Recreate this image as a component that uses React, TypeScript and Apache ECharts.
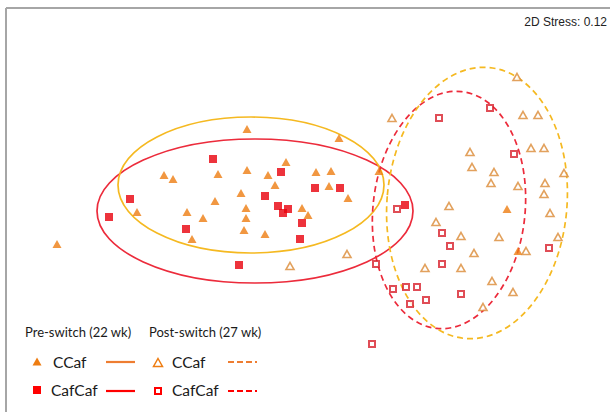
import React, { useEffect, useRef } from "react";
import * as echarts from "echarts";

// NMDS ordination coordinates (screen-like units)
const preCCaf: [number, number][] = [
  [57, 244], [247, 129], [339, 138], [164, 175], [173, 179], [218, 174], [247, 170],
  [268, 175], [286, 162], [275, 185], [241, 193], [316, 172], [331, 171], [329, 186],
  [348, 198], [379, 171], [215, 201], [137, 212], [187, 212], [203, 218], [246, 208],
  [246, 218], [302, 208], [308, 215], [244, 230], [192, 239], [265, 234], [507, 209],
  [518, 251],
];
const preCafCaf: [number, number][] = [
  [213, 159], [130, 199], [109, 217], [186, 229], [239, 265], [281, 172], [315, 188],
  [340, 188], [265, 196], [278, 206], [288, 209], [283, 213], [302, 223], [300, 239],
  [405, 205],
];
const postCCaf: [number, number][] = [
  [392, 118], [517, 77], [523, 115], [538, 115], [531, 148], [544, 148], [470, 152],
  [472, 167], [494, 172], [491, 183], [518, 186], [545, 183], [544, 194], [564, 173],
  [449, 206], [550, 213], [436, 222], [461, 236], [499, 237], [558, 237], [474, 253],
  [526, 251], [347, 254], [290, 266], [425, 268], [461, 268], [492, 281], [513, 292],
  [483, 307],
];
const postCafCaf: [number, number][] = [
  [439, 118], [490, 108], [514, 154], [397, 209], [442, 233], [450, 246], [442, 264],
  [376, 264], [393, 289], [406, 287], [417, 287], [410, 304], [426, 300], [461, 294],
  [549, 248], [372, 344],
];
// confidence ellipses: [cx, cy, rx, ry, tilt (deg, clockwise)]
const ellPreCCaf = [251, 185, 133, 68, 0];
const ellPreCafCaf = [255, 211, 158, 72, 0];
const ellPostCCaf = [477, 203, 90, 136, 5];
const ellPostCafCaf = [449, 210, 76, 119, 6];

const stressLabel = "2D Stress: 0.12";
const headerPre = "Pre-switch (22 wk)";
const headerPost = "Post-switch (27 wk)";
const groupNames = ["CCaf", "CafCaf"];

const C_ORANGE = "#EE7D12";
const C_RED = "#E8000B";
const C_TAN = "#DB8A35";
const C_HRED = "#D8202C";
const C_YEL = "#F5B921";
const C_ERED = "#EC2B3B";

function ellipseSeries(name: string, e: number[], stroke: string, dashed: boolean) {
  return {
    type: "custom",
    name,
    z: 1,
    silent: true,
    data: [e],
    renderItem: (_p: any, api: any) => {
      const c = api.coord([api.value(0), api.value(1)]);
      const s = api.size([api.value(2), api.value(3)]);
      return {
        type: "ellipse",
        x: c[0],
        y: c[1],
        rotation: (-api.value(4) * Math.PI) / 180,
        shape: { cx: 0, cy: 0, rx: Math.abs(s[0]), ry: Math.abs(s[1]) },
        style: {
          fill: "none",
          stroke,
          lineWidth: 1.7,
          lineDash: dashed ? [6, 4] : null,
        },
      };
    },
  };
}

export default function App() {
  const ref = useRef<HTMLDivElement>(null);
  useEffect(() => {
    if (!ref.current) return;
    const chart = echarts.init(ref.current, null, { renderer: "svg" });
    const font = "Lato, 'Open Sans', sans-serif";
    const tri = (cx: number, cy: number, fill: string, stroke?: string) => ({
      type: "polygon",
      shape: { points: [[cx, cy - 4.5], [cx + 4.5, cy + 3.5], [cx - 4.5, cy + 3.5]] },
      style: stroke ? { fill: "#fff", stroke, lineWidth: 1.5 } : { fill },
    });
    const sq = (cx: number, cy: number, fill: string, stroke?: string) => ({
      type: "rect",
      shape: stroke ? { x: cx - 3, y: cy - 3, width: 6, height: 6 } : { x: cx - 4, y: cy - 4, width: 8, height: 8 },
      style: stroke ? { fill: "#fff", stroke, lineWidth: 2 } : { fill },
    });
    const ln = (x1: number, x2: number, y: number, stroke: string, dashed: boolean) => ({
      type: "line",
      shape: { x1, y1: y, x2, y2: y },
      style: { stroke, lineWidth: 2.2, lineDash: dashed ? [6, 3] : null },
    });
    const txt = (x: number, y: number, text: string, size: number) => ({
      type: "text",
      x,
      y,
      style: { text, fontFamily: font, fontSize: size, fill: "#1a1a1a", textVerticalAlign: "middle" },
    });
    chart.setOption({
      animation: false,
      backgroundColor: "#fff",
      grid: { left: 0, right: 0, top: 0, bottom: 0 },
      xAxis: { type: "value", min: 0, max: 610, show: false },
      yAxis: { type: "value", min: 0, max: 412, inverse: true, show: false },
      series: [
        ellipseSeries("ePreCafCaf", ellPreCafCaf, C_ERED, false),
        ellipseSeries("ePreCCaf", ellPreCCaf, C_YEL, false),
        ellipseSeries("ePostCafCaf", ellPostCafCaf, C_ERED, true),
        ellipseSeries("ePostCCaf", ellPostCCaf, C_YEL, true),
        {
          type: "scatter", name: "Pre CCaf", z: 3, data: preCCaf, symbol: "triangle",
          symbolSize: [9, 8], itemStyle: { color: C_ORANGE },
        },
        {
          type: "scatter", name: "Pre CafCaf", z: 3, data: preCafCaf, symbol: "rect",
          symbolSize: 8, itemStyle: { color: C_RED },
        },
        {
          type: "scatter", name: "Post CCaf", z: 3, data: postCCaf, symbol: "triangle",
          symbolSize: [8, 7], itemStyle: { color: "#fff", borderColor: C_TAN, borderWidth: 1.6 },
        },
        {
          type: "scatter", name: "Post CafCaf", z: 3, data: postCafCaf, symbol: "rect",
          symbolSize: 6, itemStyle: { color: "#fff", borderColor: C_HRED, borderWidth: 2 },
        },
      ],
      graphic: [
        { type: "line", shape: { x1: 6, y1: 8, x2: 612, y2: 8 }, style: { stroke: "#a6a6a6", lineWidth: 2 } },
        { type: "line", shape: { x1: 6, y1: 8, x2: 6, y2: 414 }, style: { stroke: "#a6a6a6", lineWidth: 2 } },
        {
          type: "text", x: 607, y: 22,
          style: {
            text: stressLabel, fontFamily: "'Liberation Sans', Arial, sans-serif", fontSize: 12,
            fill: "#222", textAlign: "right", textVerticalAlign: "middle",
          },
        },
        txt(25, 332, headerPre, 13),
        txt(149, 332, headerPost, 13),
        tri(37, 362, C_ORANGE),
        txt(53, 362, groupNames[0], 15.5),
        ln(106, 135, 362, "#EE7D31", false),
        tri(158, 363, "", C_ORANGE),
        txt(172, 362, groupNames[0], 15.5),
        ln(228, 257, 362, "#EE7D31", true),
        sq(37, 390, "#FF0000"),
        txt(51, 390, groupNames[1], 15.5),
        ln(106, 135, 391, "#FF0000", false),
        sq(158, 391, "", "#FF0000"),
        txt(172, 390, groupNames[1], 15.5),
        ln(228, 257, 391, "#FF0000", true),
      ],
    });
    return () => chart.dispose();
  }, []);
  return (
    <div
      ref={ref}
      style={{ position: "fixed", left: 0, top: 0, width: 610, height: 412 }}
    />
  );
}
